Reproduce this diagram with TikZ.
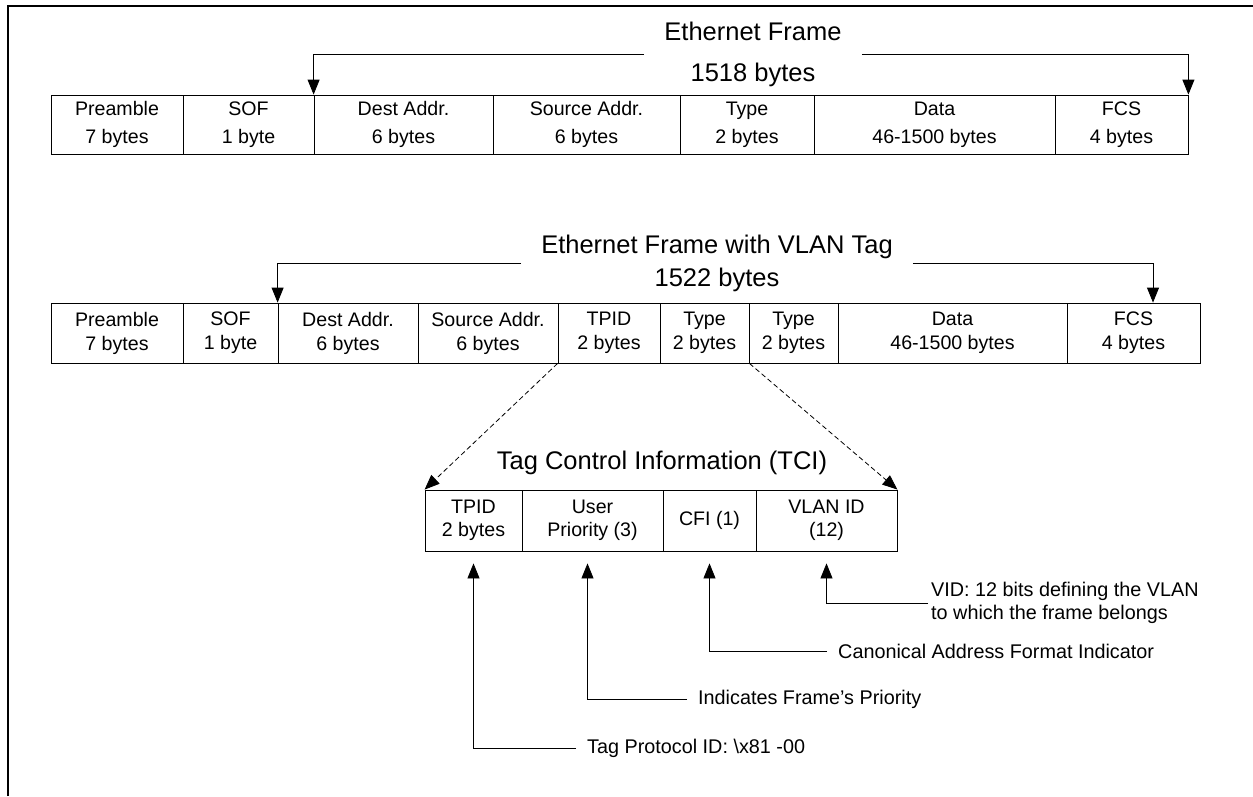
\documentclass[tikz,border=0pt]{standalone}
\usepackage{fontspec}
\setmainfont{Liberation Sans}
\usetikzlibrary{arrows.meta}

\tikzset{
  cell/.style={draw, line width=0.8pt, inner sep=0pt, align=center, font=\fontsize{19.6}{23}\selectfont},
  frametitle/.style={align=center, inner xsep=20pt, inner ysep=0pt, font=\fontsize{25.5}{30}\selectfont},
  note/.style={anchor=west, inner xsep=11pt, align=left, font=\fontsize{19.8}{23}\selectfont},
  arr/.style={line width=0.8pt, -{Triangle[length=15pt,width=12pt]}},
  dasharr/.style={arr, dash pattern=on 5pt off 3pt},
}

\begin{document}
\begin{tikzpicture}[x=1pt, y=-1pt]
    \useasboundingbox (0,0) rectangle (1253,796);
    % Page border (top and left)
    \draw[line width=2.2pt] (7.8,796) -- (7.8,5.7) -- (1253,5.7);
    % Ethernet frame
    \foreach \n/\l/\r/\t in {pre/51/183/{Preamble\\7 bytes}, sof/183/314/{SOF\\1 byte},
        dst/314/493/{Dest Addr.\\6 bytes}, src/493/680/{Source Addr.\\6 bytes},
        typ/680/814/{Type\\2 bytes}, dat/814/1055/{Data\\46-1500 bytes}, fcs/1055/1188/{FCS\\4 bytes}} {
        \node[cell, minimum width={(\r-\l)*1pt}, minimum height=59pt, font=\fontsize{19.6}{28}\selectfont]
            (e\n) at ({(\l+\r)/2},124.5) {\t};
    }
    \node[frametitle] (etitle) at (753,54) {Ethernet Frame\\[11pt]1518 bytes};
    \draw[arr] (etitle.west) -| (edst.north west);
    \draw[arr] (etitle.east) -| (efcs.north east);
    % Ethernet frame with VLAN tag
    \foreach \n/\l/\r/\t in {pre/51/183/{Preamble\\7 bytes}, sof/183/278/{SOF\\1 byte},
        dst/278/418/{Dest Addr.\\6 bytes}, src/418/558/{Source Addr.\\6 bytes},
        tpid/558/660/{TPID\\2 bytes}, typa/660/749/{Type\\2 bytes}, typb/749/838/{Type\\2 bytes},
        dat/838/1067/{Data\\46-1500 bytes}, fcs/1067/1200/{FCS\\4 bytes}} {
        \node[cell, minimum width={(\r-\l)*1pt}, minimum height=60pt, font=\fontsize{19.6}{24}\selectfont]
            (v\n) at ({(\l+\r)/2},333) {\t};
    }
    \node[frametitle] (vtitle) at (717,263) {Ethernet Frame with VLAN Tag\\[3pt]1522 bytes};
    \draw[arr] (vtitle.west) -| (vdst.north west);
    \draw[arr] (vtitle.east) -| ([xshift=19.5pt]vfcs.north);
    % Tag control information
    \foreach \n/\l/\r/\t in {tpid/425/522/{TPID\\2 bytes}, prio/522/663/{User\\Priority (3)},
        cfi/663/756/{CFI (1)}, vid/756/897/{VLAN ID\\(12)}} {
        \node[cell, minimum width={(\r-\l)*1pt}, minimum height=61pt] (t\n) at ({(\l+\r)/2},520.5) {\t};
    }
    \node[font=\fontsize{25.5}{30}\selectfont] (ttitle) at (662,463) {Tag Control Information (TCI)};
    \draw[dasharr] (vtpid.south west) -- (ttpid.north west);
    \draw[dasharr] (vtypa.south east) -- (tvid.north east);
    % Field notes
    \node[note] (ntpid) at (576,748) {Tag Protocol ID: \textbackslash x81 -00};
    \node[note] (nprio) at (687,699) {Indicates Frame's Priority};
    \node[note] (ncfi) at (827,651) {Canonical Address Format Indicator};
    \node[note, inner xsep=3pt] (nvid) at (928,603) {VID: 12 bits defining the VLAN\\to which the frame belongs};
    \draw[arr] (ntpid.west) -| ([yshift=-12pt]ttpid.south);
    \draw[arr] (nprio.west) -| ([xshift=-5pt,yshift=-12pt]tprio.south);
    \draw[arr] (ncfi.west) -| ([yshift=-12pt]tcfi.south);
    \draw[arr] (nvid.west) -| ([yshift=-12pt]tvid.south);
\end{tikzpicture}
\end{document}
